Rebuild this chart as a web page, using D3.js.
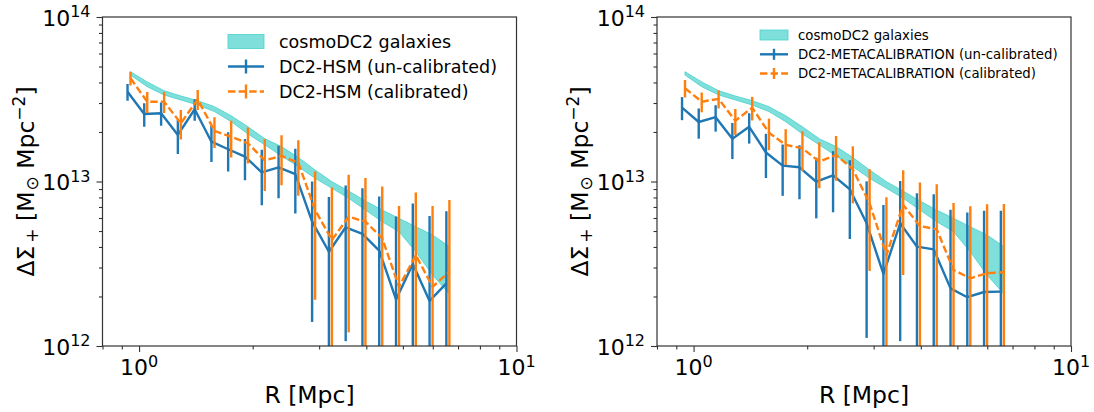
<!DOCTYPE html>
<html><head><meta charset="utf-8">
<script src="https://cdn.jsdelivr.net/npm/d3@7"></script>
<style>html,body{margin:0;padding:0;background:#fff;}svg{display:block;}text{font-family:"DejaVu Sans",sans-serif;fill:#000;}</style>
</head><body>
<script>
// Radii (Mpc) of the bins: un-calibrated series and calibrated series (slightly shifted)
const R_uncal = [0.932,1.032,1.144,1.267,1.404,1.555,1.722,1.908,2.114,2.342,2.594,2.874,3.184,3.527,3.907,4.328,4.795,5.312,5.884,6.519];
const R_cal   = [0.949,1.051,1.165,1.290,1.430,1.584,1.754,1.943,2.153,2.385,2.642,2.927,3.243,3.592,3.979,4.408,4.884,5.410,5.993,6.640];
// cosmoDC2 band (units of 1e13 Msun/Mpc^2)
const band_low  = [4.44,3.77,3.36,3.13,2.92,2.66,2.31,1.945,1.67,1.43,1.23,1.045,0.910,0.791,0.671,0.570,0.495,0.374,0.270,0.207];
const band_high = [4.65,4.03,3.565,3.31,3.10,2.85,2.51,2.15,1.82,1.63,1.40,1.175,0.998,0.875,0.761,0.671,0.597,0.531,0.473,0.402];
// DC2-HSM
const hsm_uncal     = [3.51,2.57,2.60,1.92,2.75,1.746,1.57,1.416,1.137,1.22,1.11,0.570,0.374,0.527,0.480,0.380,0.192,0.315,0.188,0.240];
const hsm_uncal_err = [0.41,0.42,0.42,0.45,0.41,0.43,0.42,0.40,0.42,0.43,0.47,0.43,0.43,0.42,0.43,0.43,0.42,0.42,0.43,0.42];
const hsm_cal       = [4.24,3.055,3.055,2.26,3.16,2.03,1.87,1.706,1.345,1.43,1.30,0.671,0.441,0.611,0.570,0.452,0.229,0.357,0.229,0.283];
const hsm_cal_err   = [0.40,0.45,0.45,0.46,0.44,0.43,0.47,0.42,0.47,0.48,0.48,0.48,0.48,0.49,0.48,0.48,0.48,0.50,0.48,0.49];
// DC2-METACALIBRATION
const mcal_uncal     = [2.81,2.30,2.46,1.82,2.15,1.50,1.248,1.22,0.997,1.09,0.897,0.557,0.274,0.557,0.402,0.387,0.224,0.198,0.213,0.214];
const mcal_uncal_err = [0.45,0.48,0.45,0.45,0.45,0.45,0.43,0.44,0.40,0.44,0.45,0.445,0.446,0.45,0.446,0.45,0.45,0.45,0.45,0.45];
const mcal_cal       = [3.69,3.055,3.18,2.34,2.81,1.98,1.67,1.59,1.32,1.45,1.186,0.736,0.357,0.720,0.536,0.512,0.290,0.258,0.277,0.281];
const mcal_cal_err   = [0.45,0.42,0.40,0.42,0.46,0.43,0.41,0.43,0.41,0.44,0.45,0.45,0.445,0.45,0.45,0.45,0.45,0.45,0.45,0.45];
const UNIT = 1e13;
// ticks
const xMajor = [1, 10];
const xMinor = [0.8,0.9,2,3,4,5,6,7,8,9];
const yMajor = [1e12,1e13,1e14];
const yMinor = [2e12,3e12,4e12,5e12,6e12,7e12,8e12,9e12,2e13,3e13,4e13,5e13,6e13,7e13,8e13,9e13];
const xLabel = "R [Mpc]";
const legendHSM  = ["cosmoDC2 galaxies","DC2-HSM (un-calibrated)","DC2-HSM (calibrated)"];
const legendMCAL = ["cosmoDC2 galaxies","DC2-METACALIBRATION (un-calibrated)","DC2-METACALIBRATION (calibrated)"];

const W=1094,H=412;
const BLUE="#1f77b4", ORANGE="#ff7f0e", TURQ="#48d1cc";
const svg=d3.select("body").append("svg").attr("width",W).attr("height",H);

function panel(id, x0, uncal, uncalErr, cal, calErr, legendTexts, leg){
  const x=d3.scaleLog().domain([0.8,10]).range([x0, x0+414]);
  const y=d3.scaleLog().domain([1e12,1e14]).range([346,17]);
  const g=svg.append("g");
  const clipId="clip"+id;
  svg.append("clipPath").attr("id",clipId).append("rect")
     .attr("x",x0).attr("y",17).attr("width",414).attr("height",329);
  const pg=g.append("g").attr("clip-path",`url(#${clipId})`);
  // band
  const area=d3.area().x((d,i)=>x(R_cal[i])).y0((d,i)=>y(band_low[i]*UNIT)).y1((d,i)=>y(band_high[i]*UNIT));
  pg.append("path").datum(band_low).attr("d",area)
    .attr("fill",TURQ).attr("fill-opacity",0.7).attr("stroke",TURQ).attr("stroke-opacity",0.8).attr("stroke-width",1);
  function series(Rs, vals, errs, color, dash){
    const line=d3.line().x((d,i)=>x(Rs[i])).y(d=>y(d*UNIT));
    pg.append("path").datum(vals).attr("d",line).attr("fill","none")
      .attr("stroke",color).attr("stroke-width",2.4).attr("stroke-dasharray",dash||null).attr("stroke-linejoin","round");
    pg.selectAll(null).data(vals).enter().append("line")
      .attr("x1",(d,i)=>x(Rs[i])).attr("x2",(d,i)=>x(Rs[i]))
      .attr("y1",(d,i)=>y(Math.max(d-errs[i],0.01)*UNIT)).attr("y2",(d,i)=>y((d+errs[i])*UNIT))
      .attr("stroke",color).attr("stroke-width",2.4);
  }
  series(R_uncal, uncal, uncalErr, BLUE, null);
  series(R_cal, cal, calErr, ORANGE, "7.4,3.2");

  // axes
  const ax=g.append("g").attr("transform",`translate(0,346)`);
  ax.call(d3.axisBottom(x).tickValues(xMajor).tickSize(6).tickFormat(""));
  const axm=g.append("g").attr("transform",`translate(0,346)`);
  axm.call(d3.axisBottom(x).tickValues(xMinor).tickSize(3.5).tickFormat(""));
  const ay=g.append("g").attr("transform",`translate(${x0},0)`);
  ay.call(d3.axisLeft(y).tickValues(yMajor).tickSize(6).tickFormat(""));
  const aym=g.append("g").attr("transform",`translate(${x0},0)`);
  aym.call(d3.axisLeft(y).tickValues(yMinor).tickSize(3.5).tickFormat(""));
  g.selectAll(".domain").remove();
  g.selectAll(".tick line").attr("stroke","#333").attr("stroke-width",1.1);
  g.append("rect").attr("x",x0).attr("y",17).attr("width",414).attr("height",329)
    .attr("fill","none").attr("stroke","#333").attr("stroke-width",1.2);

  // tick labels
  xMajor.forEach(v=>{
    const t=g.append("text").attr("x",x(v)).attr("y",375).attr("text-anchor","middle").attr("font-size",22);
    t.append("tspan").text("10");
    t.append("tspan").attr("dy",-8.5).attr("font-size",16).text(String(Math.round(Math.log10(v))));
  });
  yMajor.forEach(v=>{
    const t=g.append("text").attr("x",x0-12).attr("y",y(v)+8.5).attr("text-anchor","end").attr("font-size",22);
    t.append("tspan").text("10");
    t.append("tspan").attr("dy",-8.5).attr("font-size",16).text(String(Math.round(Math.log10(v))));
  });
  // axis labels
  g.append("text").attr("x",x0+207).attr("y",403).attr("text-anchor","middle").attr("font-size",23.5).text(xLabel);
  const yl=g.append("text").attr("transform",`translate(${x0-69},181.5) rotate(-90)`).attr("text-anchor","middle").attr("font-size",23.5);
  yl.append("tspan").text("ΔΣ");
  yl.append("tspan").attr("font-size",17).attr("dx",3).attr("dy",4).text("+");
  yl.append("tspan").attr("dy",-4).text(" [M");
  yl.append("tspan").attr("font-size",17).attr("dx",1).attr("dy",4).text("⊙");
  yl.append("tspan").attr("dy",-4).text(" Mpc");
  yl.append("tspan").attr("font-size",17).attr("dy",-9).text("−2");
  yl.append("tspan").attr("dy",9).text("]");

  // legend
  const lg=g.append("g");
  const hx=leg.x, hw=leg.w;
  lg.append("rect").attr("x",hx).attr("y",leg.rows[0]-leg.ph/2).attr("width",hw).attr("height",leg.ph)
    .attr("fill",TURQ).attr("fill-opacity",0.7).attr("stroke",TURQ).attr("stroke-opacity",0.8);
  [[BLUE,null],[ORANGE,"7.4,3.2"]].forEach((s,k)=>{
    const yy=leg.rows[k+1];
    lg.append("line").attr("x1",hx).attr("x2",hx+hw).attr("y1",yy).attr("y2",yy)
      .attr("stroke",s[0]).attr("stroke-width",2.4).attr("stroke-dasharray",s[1]);
    lg.append("line").attr("x1",hx+hw/2).attr("x2",hx+hw/2).attr("y1",yy-leg.eh).attr("y2",yy+leg.eh)
      .attr("stroke",s[0]).attr("stroke-width",2.4);
  });
  legendTexts.forEach((t,k)=>{
    lg.append("text").attr("x",leg.tx).attr("y",leg.rows[k]).attr("dy","0.35em").attr("font-size",leg.fs).text(t);
  });
}

panel("L",102.5,hsm_uncal,hsm_uncal_err,hsm_cal,hsm_cal_err,legendHSM,
  {x:228,w:36,ph:14,eh:7,tx:279,fs:17.5,rows:[41.5,66.5,91.5]});
panel("R",657,mcal_uncal,mcal_uncal_err,mcal_cal,mcal_cal_err,legendMCAL,
  {x:760,w:28,ph:10,eh:5.5,tx:798,fs:13.3,rows:[35,54.3,73.5]});
</script>
</body></html>
